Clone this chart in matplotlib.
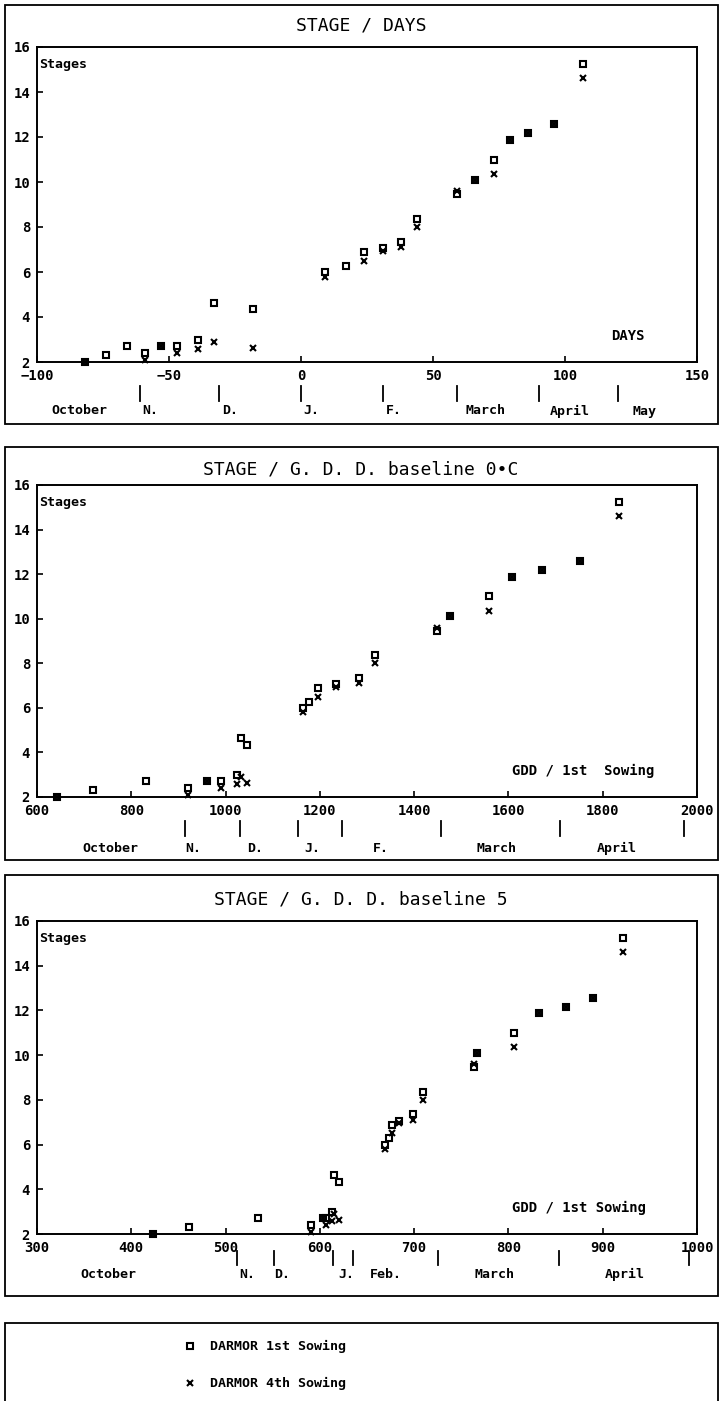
import numpy as np
import matplotlib
matplotlib.use("Agg")
import matplotlib.pyplot as plt
import matplotlib.patches as patches
import matplotlib.transforms as mtrans

plt.rcParams['font.family'] = ['DejaVu Sans Mono']

# observation dates (days from 1 January) and growing degree days from 1st sowing
days = [-82, -74, -66, -59, -53, -47, -39, -33, -18, 9, 17, 24, 31, 38, 44,
        59, 66, 73, 79, 86, 96, 107]
gdd0 = [642, 718, 832, 921, 960, 990, 1025, 1033, 1046, 1165, 1178, 1196, 1235,
        1282, 1316, 1449, 1476, 1558, 1607, 1672, 1751, 1835]
gdd5 = [423, 461, 534, 591, 603, 607, 613, 615, 620, 669, 673, 676, 684, 699,
        709, 764, 767, 806, 832, 861, 890, 921]

# stages, DARMOR 1st and 4th sowing (nan = not observed)
nan = np.nan
stage_s1 = [2.0, 2.33, 2.7, 2.42, 2.72, 2.7, 3.0, 4.63, 4.34, 6.0, 6.28, 6.88,
            7.05, 7.35, 8.35, 9.45, 10.1, 11.0, 11.87, 12.17, 12.57, 15.25]
stage_s4 = [2.0, nan, nan, 2.1, 2.72, 2.4, 2.6, 2.9, 2.63, 5.8, nan, 6.5,
            6.95, 7.1, 8.0, 9.6, 10.1, 10.35, 11.87, 12.17, 12.57, 14.63]

# month marks under each x axis
month_names1 = ["October", "N.", "D.", "J.", "F.", "March", "April", "May"]
month_text1 = [-84, -57, -27, 4, 35, 70, 102, 130]
month_bars1 = [-61, -31, 0, 31, 59, 90, 120]

month_names2 = ["October", "N.", "D.", "J.", "F.", "March", "April"]
month_text2 = [755, 932, 1062, 1185, 1330, 1575, 1830]
month_bars2 = [913, 1030, 1153, 1247, 1456, 1709, 1973]

month_names3 = ["October", "N.", "D.", "J.", "Feb.", "March", "April"]
month_text3 = [376, 523, 560, 628, 670, 785, 923]
month_bars3 = [512, 551, 614, 635, 725, 854, 992]

W, H = 722, 1401
fig = plt.figure(figsize=(W / 100, H / 100), dpi=100)


def fx(px):
    return px / W


def fy(py):
    return 1 - py / H


panels = [
    dict(title="STAGE / DAYS", x=days, xlim=(-100, 150), step=50,
         box=(5, 424), ty=25, ax=(47, 362), bars=(386, 401), my=411,
         note="DAYS", names=month_names1, mtext=month_text1, mbars=month_bars1),
    dict(title="STAGE / G. D. D. baseline 0•C", x=gdd0, xlim=(600, 2000), step=200,
         box=(447, 860), ty=470, ax=(485, 797), bars=(821, 836), my=848,
         note="GDD / 1st  Sowing", names=month_names2, mtext=month_text2, mbars=month_bars2),
    dict(title="STAGE / G. D. D. baseline 5", x=gdd5, xlim=(300, 1000), step=100,
         box=(875, 1296), ty=900, ax=(921, 1234), bars=(1251, 1265), my=1274,
         note="GDD / 1st Sowing", names=month_names3, mtext=month_text3, mbars=month_bars3),
]

for p in panels:
    b0, b1 = p["box"]
    fig.patches.append(patches.Rectangle((fx(5), fy(b1)), fx(713), (b1 - b0) / H,
                                         transform=fig.transFigure, fill=False,
                                         lw=1.3, color="black"))
    fig.text(0.5, fy(p["ty"]), p["title"], ha="center", va="center", fontsize=13)

    a0, a1 = p["ax"]
    ax = fig.add_axes([fx(37), fy(a1), fx(660), (a1 - a0) / H])
    ax.plot(p["x"], stage_s1, ls="none", marker="s", ms=4.5, mfc="none",
            mec="black", mew=1.5, clip_on=False)
    ax.plot(p["x"], stage_s4, ls="none", marker="x", ms=5, color="black",
            mew=1.5, clip_on=False)

    ax.set_xlim(*p["xlim"])
    ax.set_ylim(2, 16)
    ax.set_xticks(np.arange(p["xlim"][0], p["xlim"][1] + 1, p["step"]))
    ax.set_yticks(np.arange(2, 17, 2))
    ax.tick_params(direction="in", length=4, width=1.2, labelsize=10, pad=5)
    for lab in ax.get_xticklabels() + ax.get_yticklabels():
        lab.set_fontweight("bold")
    for s in ax.spines.values():
        s.set_linewidth(1.4)

    ax.text(0.003, 0.965, "Stages", transform=ax.transAxes, ha="left", va="top",
            fontsize=9.5, fontweight="bold")
    ax.text(0.72 if len(p["note"]) > 5 else 0.87, 0.06, p["note"],
            transform=ax.transAxes, ha="left", va="bottom", fontsize=10,
            fontweight="bold")

    trans = mtrans.blended_transform_factory(ax.transData, fig.transFigure)
    y0, y1 = p["bars"]
    for xb in p["mbars"]:
        ax.plot([xb, xb], [fy(y0), fy(y1)], color="black", lw=1.3,
                transform=trans, clip_on=False)
    for name, xt in zip(p["names"], p["mtext"]):
        ax.text(xt, fy(p["my"]), name, transform=trans, ha="center",
                va="center", fontsize=9.5, fontweight="bold")

# legend box
fig.patches.append(patches.Rectangle((fx(5), fy(1430)), fx(713), 107 / H,
                                     transform=fig.transFigure, fill=False,
                                     lw=1.3, color="black"))
lax = fig.add_axes([0, 0, 1, 1], facecolor="none")
lax.set_xlim(0, W)
lax.set_ylim(H, 0)
lax.axis("off")
lax.plot([190], [1346], ls="none", marker="s", ms=4.5, mfc="none", mec="black", mew=1.5)
lax.plot([190], [1383], ls="none", marker="x", ms=5, color="black", mew=1.5)
lax.text(210, 1346, "DARMOR 1st Sowing", ha="left", va="center", fontsize=9.5,
         fontweight="bold")
lax.text(210, 1383, "DARMOR 4th Sowing", ha="left", va="center", fontsize=9.5,
         fontweight="bold")

fig.savefig("out.png", dpi=100)
